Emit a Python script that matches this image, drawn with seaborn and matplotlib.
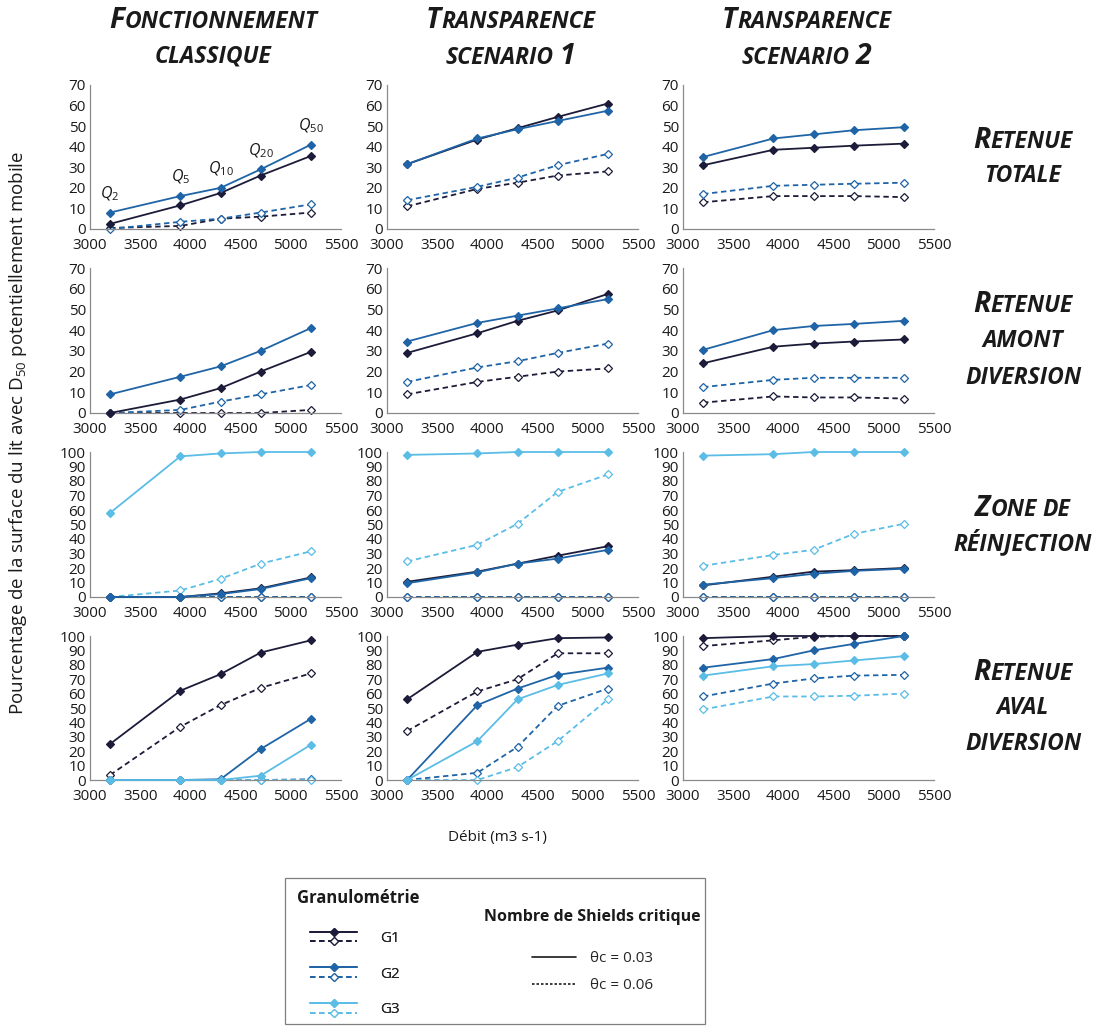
import matplotlib
matplotlib.use("Agg")
import matplotlib.pyplot as plt
import seaborn as sns
from matplotlib.lines import Line2D
from matplotlib.patches import Rectangle
from matplotlib.legend_handler import HandlerBase
from matplotlib.offsetbox import TextArea, HPacker, AnnotationBbox

# flows (m3/s) and return periods
debit = [3200, 3900, 4300, 4700, 5200]
periodes = ["2", "5", "10", "20", "50"]

# Retenue totale
tot_classique = {"G1 0.03": [2.5, 11.5, 17.5, 26, 35.5], "G2 0.03": [8, 16, 20, 29, 41],
                 "G1 0.06": [0.5, 1.5, 5, 6, 8], "G2 0.06": [0, 3.5, 5, 8, 12]}
tot_scen1 = {"G1 0.03": [31.5, 43.5, 49, 54.5, 61], "G2 0.03": [31.5, 44, 48.5, 52.5, 57.5],
             "G1 0.06": [11, 19.5, 22.5, 26, 28], "G2 0.06": [14, 20.5, 25, 31, 36.5]}
tot_scen2 = {"G1 0.03": [31, 38.5, 39.5, 40.5, 41.5], "G2 0.03": [35, 44, 46, 48, 49.5],
             "G1 0.06": [13, 16, 16, 16, 15.5], "G2 0.06": [17, 21, 21.5, 22, 22.5]}

# Retenue amont diversion
amont_classique = {"G1 0.03": [0, 6.5, 12, 20, 29.5], "G2 0.03": [9, 17.5, 22.5, 30, 41],
                   "G1 0.06": [0, 0, 0, 0, 1.5], "G2 0.06": [0, 1.5, 5.5, 9, 13.5]}
amont_scen1 = {"G1 0.03": [29, 38.5, 44.5, 49.5, 57.5], "G2 0.03": [34.5, 43.5, 47, 50.5, 55],
               "G1 0.06": [9, 15, 17.5, 20, 21.5], "G2 0.06": [15, 22, 25, 29, 33.5]}
amont_scen2 = {"G1 0.03": [24, 32, 33.5, 34.5, 35.5], "G2 0.03": [30.5, 40, 42, 43, 44.5],
               "G1 0.06": [5, 8, 7.5, 7.5, 7], "G2 0.06": [12.5, 16, 17, 17, 17]}

# Zone de reinjection
reinj_classique = {"G1 0.03": [0, 0, 2.5, 6, 13.5], "G2 0.03": [0, 0, 2, 5.5, 13],
                   "G3 0.03": [58, 97, 99, 100, 100],
                   "G1 0.06": [0, 0, 0, 0, 0], "G2 0.06": [0, 0, 0, 0, 0],
                   "G3 0.06": [0, 4.5, 12.5, 23, 31.5]}
reinj_scen1 = {"G1 0.03": [10.5, 17.5, 23, 28.5, 35], "G2 0.03": [9.5, 17, 23, 26.5, 32.5],
               "G3 0.03": [98, 99, 100, 100, 100],
               "G1 0.06": [0, 0, 0, 0, 0], "G2 0.06": [0, 0, 0, 0, 0],
               "G3 0.06": [24.5, 36, 50.5, 72.5, 84.5]}
reinj_scen2 = {"G1 0.03": [8, 14, 17.5, 18.5, 20], "G2 0.03": [8.5, 13, 16, 18, 19.5],
               "G3 0.03": [97.5, 98.5, 100, 100, 100],
               "G1 0.06": [0, 0, 0, 0, 0], "G2 0.06": [0, 0, 0, 0, 0],
               "G3 0.06": [21.5, 29, 32.5, 43.5, 50.5]}

# Retenue aval diversion
aval_classique = {"G1 0.03": [25, 62, 73.5, 88.5, 97], "G2 0.03": [0, 0, 0.5, 21.5, 42.5],
                  "G3 0.03": [0, 0, 0, 3, 24.5],
                  "G1 0.06": [3.5, 37, 52, 64, 74], "G2 0.06": [0, 0, 0, 0, 0.5],
                  "G3 0.06": [0, 0, 0, 0, 0]}
aval_scen1 = {"G1 0.03": [56, 89, 94, 98.5, 99], "G2 0.03": [0, 52, 63.5, 73, 78],
              "G3 0.03": [0, 27, 56, 66, 74],
              "G1 0.06": [34, 61.5, 70, 88, 88], "G2 0.06": [0, 5, 23, 51.5, 63.5],
              "G3 0.06": [0, 0, 9, 27, 56]}
aval_scen2 = {"G1 0.03": [98.5, 100, 100, 100, 100], "G2 0.03": [78, 84, 90, 94.5, 100],
              "G3 0.03": [72.5, 79, 80.5, 83, 86],
              "G1 0.06": [93, 97, 99.5, 100, 100], "G2 0.06": [58, 67, 70.5, 72.5, 73],
              "G3 0.06": [49, 58, 58, 58.5, 60]}

panels = [[tot_classique, tot_scen1, tot_scen2],
          [amont_classique, amont_scen1, amont_scen2],
          [reinj_classique, reinj_scen1, reinj_scen2],
          [aval_classique, aval_scen1, aval_scen2]]

col_titles = [("Fonctionnement", "classique"), ("Transparence", "scenario 1"),
              ("Transparence", "scenario 2")]
row_titles = [("Retenue", "totale"), ("Retenue", "amont", "diversion"),
              ("Zone de", "réinjection"), ("Retenue", "aval", "diversion")]

colors = {"G1": "#1c1c3a", "G2": "#1f64a6", "G3": "#5bbde6"}

sns.set_style("white")
plt.rcParams["font.family"] = ["Open Sans", "DejaVu Sans"]
plt.rcParams["mathtext.fontset"] = "custom"
plt.rcParams["mathtext.rm"] = "Open Sans"
plt.rcParams["mathtext.it"] = "Open Sans:italic"

W, H = 1099, 1026
fig = plt.figure(figsize=(W / 100, H / 100), dpi=100)

col_left = [90, 387, 683]
col_w = 251
rows_px = [(85, 229), (268, 413), (452, 597), (636, 780)]


def smallcaps(text, big=20.5, small=16.5):
    # bold italic small caps built from text runs
    props = dict(weight="bold", style="italic", color="#1a1a1a")
    parts = []
    for word_i, word in enumerate(text.split(" ")):
        if word_i > 0:
            parts.append(TextArea(" ", textprops=dict(size=small, **props)))
        first = word[0]
        if first.isupper() or first.isdigit():
            parts.append(TextArea(first.upper(), textprops=dict(size=big, **props)))
            rest = word[1:]
        else:
            rest = word
        if rest:
            parts.append(TextArea(rest.upper(), textprops=dict(size=small, **props)))
    return HPacker(children=parts, align="baseline", pad=0, sep=0)


def place(box, x, y):
    ab = AnnotationBbox(box, (x / W, 1 - y / H), xycoords="figure fraction",
                        frameon=False, box_alignment=(0.5, 0.5), pad=0)
    fig.add_artist(ab)


for r, (top, bot) in enumerate(rows_px):
    ymax = 70 if r < 2 else 100
    for c in range(3):
        ax = fig.add_axes([col_left[c] / W, 1 - bot / H, col_w / W, (bot - top) / H])
        data = panels[r][c]
        for key, vals in data.items():
            g, theta = key.split()
            col = colors[g]
            solid = theta == "0.03"
            sns.lineplot(x=debit, y=vals, ax=ax, color=col, linewidth=1.3,
                         linestyle="-" if solid else (0, (3, 2)),
                         marker="D", markersize=4.5,
                         markerfacecolor=col if solid else "white",
                         markeredgecolor=col, markeredgewidth=0.9,
                         errorbar=None, clip_on=False, zorder=3 if solid else 2)
        ax.set_xlim(3000, 5500)
        ax.set_ylim(0, ymax)
        ax.set_xticks(range(3000, 5501, 500))
        ax.set_yticks(range(0, ymax + 1, 10))
        ax.tick_params(axis="x", length=4, width=0.8, color="#8a8a8a", labelsize=11, pad=2.5,
                       labelcolor="#1a1a1a")
        ax.tick_params(axis="y", length=0, labelsize=11, pad=3, labelcolor="#1a1a1a")
        for s in ["top", "right"]:
            ax.spines[s].set_visible(False)
        for s in ["left", "bottom"]:
            ax.spines[s].set_color("#8a8a8a")
            ax.spines[s].set_linewidth(0.9)
        if r == 0 and c == 0:
            for x, y, q in zip(debit, data["G2 0.03"], periodes):
                ax.annotate("Q$_{%s}$" % q, xy=(x, y), xytext=(0, 7), textcoords="offset points",
                            ha="center", va="bottom", fontsize=11.5, style="italic",
                            color="#1a1a1a")

# column titles
for c, lines in enumerate(col_titles):
    cx = col_left[c] + col_w / 2 - 2
    for i, line in enumerate(lines):
        place(smallcaps(line), cx, 21 + 36 * i)

# row titles
row_centers = [(140, 176), (305, 341, 378), (508, 543), (672, 708, 744)]
for lines, ys in zip(row_titles, row_centers):
    for line, y in zip(lines, ys):
        place(smallcaps(line), 1023, y)

fig.text(18 / W, 1 - 433 / H,
         "Pourcentage de la surface du lit avec D$_\\mathregular{50}$ potentiellement mobile",
         rotation=90, ha="center", va="center", fontsize=13.5, color="#1a1a1a")
fig.text(497 / W, 1 - 837 / H, "Débit (m3 s-1)", ha="center", va="center",
         fontsize=11, color="#1a1a1a")

# legend box
fig.add_artist(Rectangle((285 / W, 1 - 1024 / H), 420 / W, 146 / H, transform=fig.transFigure,
                         facecolor="white", edgecolor="#7f7f7f", linewidth=0.9))
fig.text(297 / W, 1 - 898 / H, "Granulométrie", ha="left", va="center", fontsize=12,
         weight="bold", color="#1a1a1a")
fig.text(484 / W, 1 - 917 / H, "Nombre de Shields critique", ha="left", va="center",
         fontsize=11.5, weight="bold", color="#1a1a1a")


class PairHandler(HandlerBase):
    def create_artists(self, legend, orig_handle, xdescent, ydescent, width, height,
                       fontsize, trans):
        col = orig_handle.get_color()
        arts = []
        for frac, ls, face in [(1.0, "-", col), (0.0, (0, (3, 2)), "white")]:
            y = height * frac - ydescent
            ln = Line2D([-xdescent, width - xdescent], [y, y], color=col, linestyle=ls,
                        linewidth=1.3, transform=trans)
            mk = Line2D([width / 2 - xdescent], [y], marker="D", markersize=4.5,
                        markerfacecolor=face, markeredgecolor=col, markeredgewidth=0.9,
                        linestyle="none", transform=trans)
            arts += [ln, mk]
        return arts


g_handles = [Line2D([], [], color=colors[g]) for g in ["G1", "G2", "G3"]]
leg1 = fig.legend(handles=g_handles, labels=["G1", "G2", "G3"],
                  handler_map={Line2D: PairHandler()},
                  loc="upper left", bbox_to_anchor=(310 / W, 1 - 931 / H),
                  frameon=False, fontsize=11, handlelength=3.1, handleheight=0.6,
                  handletextpad=1.5, labelspacing=1.35, borderpad=0, borderaxespad=0)
fig.add_artist(leg1)

t_handles = [Line2D([], [], color="#1a1a1a", linewidth=1.2, linestyle="-"),
             Line2D([], [], color="#1a1a1a", linewidth=1.2, linestyle=(0, (1.5, 1.2)))]
fig.legend(handles=t_handles, labels=["θc = 0.03", "θc = 0.06"],
           loc="upper left", bbox_to_anchor=(532 / W, 1 - 951 / H),
           frameon=False, fontsize=11, handlelength=2.9, handletextpad=0.9,
           labelspacing=0.8, borderpad=0, borderaxespad=0)

fig.savefig("out.png", dpi=100, facecolor="white")
